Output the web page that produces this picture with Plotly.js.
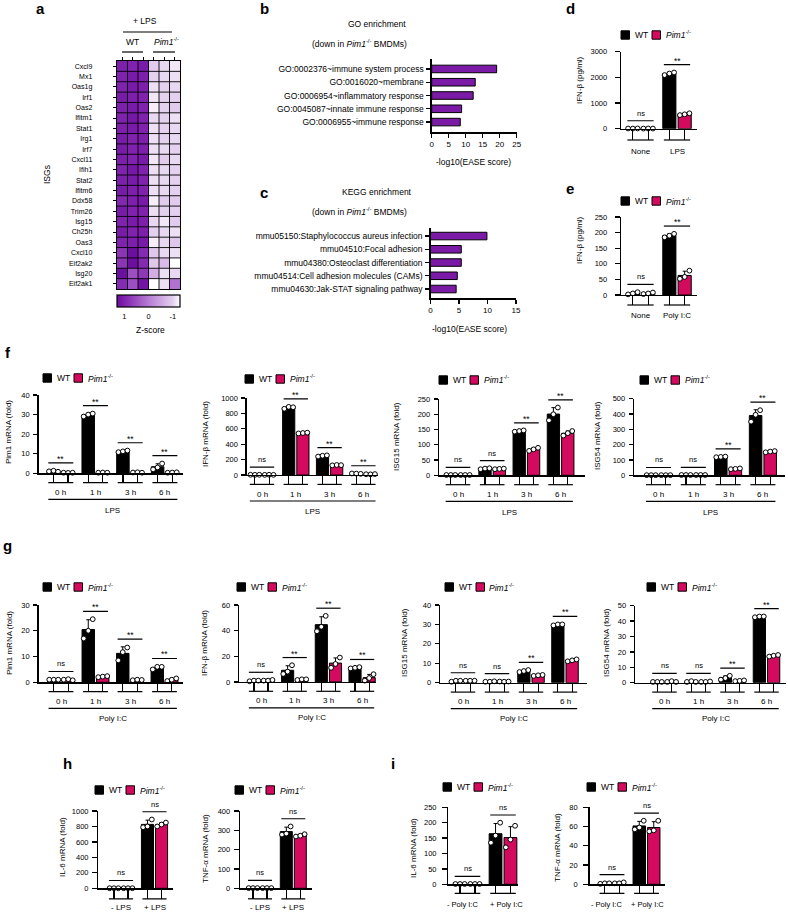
<!DOCTYPE html>
<html><head><meta charset="utf-8">
<script src="https://cdn.plot.ly/plotly-3.0.1.min.js"></script>
<style>html,body{margin:0;padding:0;background:#fff}#chart{width:788px;height:913px}</style>
</head><body><div id="chart"></div>
<script>
// ---------------- DATA ----------------
const genes = ['Cxcl9','Mx1','Oas1g','Irf1','Oas2','Ifitm1','Stat1','Irg1','Irf7','Cxcl11','Ifih1','Stat2','Ifitm6','Ddx58','Trim26','Isg15','Ch25h','Oas3','Cxcl10','Eif2ak2','Isg20','Eif2ak1'];
const heatSamples = ['WT-1','WT-2','WT-3','Pim1-1','Pim1-2','Pim1-3'];
const zScores = [
 [1.05,1.0,1.1,-0.95,-1.05,-1.15],
 [1.0,1.1,1.05,-1.0,-1.05,-1.1],
 [1.0,1.1,1.05,-1.1,-1.0,-1.05],
 [1.1,1.05,1.0,-1.15,-1.0,-1.0],
 [1.05,1.1,1.0,-1.2,-1.0,-0.95],
 [1.0,1.15,1.0,-1.05,-1.0,-1.1],
 [1.05,1.1,1.0,-1.1,-1.0,-1.05],
 [1.1,1.0,1.05,-1.1,-1.0,-1.05],
 [1.1,1.0,1.05,-1.1,-1.05,-1.0],
 [1.05,1.0,1.1,-1.15,-0.95,-1.05],
 [1.0,1.15,1.0,-1.1,-1.05,-1.0],
 [1.05,1.1,1.0,-1.1,-1.05,-1.0],
 [1.1,1.05,1.0,-1.1,-1.05,-1.0],
 [0.95,1.05,1.1,-1.2,-0.95,-0.95],
 [1.1,1.0,1.0,-1.1,-1.0,-1.0],
 [1.0,1.1,1.05,-1.05,-1.15,-0.95],
 [1.1,1.0,1.05,-1.0,-1.05,-1.1],
 [1.0,1.05,1.1,-1.2,-1.05,-0.9],
 [0.8,1.3,0.9,-0.9,-1.05,-1.1],
 [0.8,1.3,0.9,-0.9,-0.75,-1.35],
 [1.5,0.5,0.75,-0.6,-1.1,-1.05],
 [0.9,0.5,1.2,-1.6,-1.1,0.1]
];
const zTicks = [1,0,-1];

const goTerms = ['GO:0002376~immune system process','GO:0016020~membrane','GO:0006954~inflammatory response','GO:0045087~innate immune response','GO:0006955~immune response'];
const goScores = [19.1,12.8,12.2,8.8,8.4];
const keggTerms = ['mmu05150:Staphylococcus aureus infection','mmu04510:Focal adhesion','mmu04380:Osteoclast differentiation','mmu04514:Cell adhesion molecules (CAMs)','mmu04630:Jak-STAT signaling pathway'];
const keggScores = [9.9,5.4,5.4,4.7,4.5];

const timeGroups = ['0 h','1 h','3 h','6 h'];

const dGroups = ['None','LPS'];
const dWT = [[8,5,10],[2090,2150,2190]];
const dKO = [[5,9,6],[530,560,600]];
const dSig = ['ns','**'];

const eGroups = ['None','Poly I:C'];
const eWT = [[2,5,9],[185,190,196]];
const eKO = [[3,5,8],[52,58,78]];
const eSig = ['ns','**'];

const fPim1WT = [[1,1.3,0.8],[29,30,30.5],[10.8,11.2,11.6],[2,3,5]];
const fPim1KO = [[0.3,0.2,0.3],[0.3,0.4,0.3],[0.4,0.5,0.3],[0.3,0.4,0.5]];
const fPim1Sig = ['**','**','**','**'];
const fIfnWT = [[3,2,3],[860,885,880],[240,250,255],[20,18,15]];
const fIfnKO = [[2,3,2],[540,545,550],[125,130,128],[10,8,12]];
const fIfnSig = ['ns','**','**','**'];
const fIsg15WT = [[1,1,1],[20,22,23],[143,145,147],[180,200,222]];
const fIsg15KO = [[1,1,1],[20,21,22],[80,85,90],[130,138,145]];
const fIsg15Sig = ['ns','ns','**','**'];
const fIsg54WT = [[1,1,1],[2,2,2],[118,120,122],[350,395,425]];
const fIsg54KO = [[1,1,1],[2,2,2],[40,42,45],[150,155,158]];
const fIsg54Sig = ['ns','ns','**','**'];

const gPim1WT = [[1,1,1],[17,20,24.5],[8.5,11.7,13.5],[5,6,6]];
const gPim1KO = [[1,1.2,0.8],[2,2.2,2.4],[0.8,1,0.9],[0.5,1,1.5]];
const gPim1Sig = ['ns','**','**','**'];
const gIfnWT = [[0.5,1,1],[6.2,8,13],[39.5,43,51.5],[10.5,11,11.5]];
const gIfnKO = [[1,1,1.5],[1.5,2,2],[11,14,19],[1,3,6]];
const gIfnSig = ['ns','**','**','**'];
const gIsg15WT = [[0.5,1,1],[0.5,0.5,0.7],[5.5,6,6.5],[29.5,30,30]];
const gIsg15KO = [[1,1,1],[0.6,0.5,0.6],[3.5,3.8,4],[11,11.5,12]];
const gIsg15Sig = ['ns','ns','**','**'];
const gIsg54WT = [[0.5,0.5,0.5],[0.5,1,0.5],[2,3,4.5],[42.5,43,43]];
const gIsg54KO = [[0.5,1,0.5],[0.5,0.5,0.8],[1,1.2,1.5],[17,17.5,18]];
const gIsg54Sig = ['ns','ns','**','**'];

const hGroups = ['- LPS','+ LPS'];
const hIl6WT = [[1,1,1],[790,800,890]];
const hIl6KO = [[1,1,1],[800,825,850]];
const hTnfWT = [[1,1,1],[278,283,320]];
const hTnfKO = [[1,1,1],[268,272,280]];
const hSig = ['ns','ns'];

const iGroups = ['- Poly I:C','+ Poly I:C'];
const iIl6WT = [[1,1,1],[135,158,200]];
const iIl6KO = [[1,1,1],[120,145,190]];
const iTnfWT = [[0.5,1,1],[57,59,66]];
const iTnfKO = [[1,1,2],[55,56,66]];
const iSig = ['ns','ns'];

// ---------------- STYLE / HELPERS ----------------
const FONT = '"Liberation Sans", Arial, sans-serif';
const W = 788, H = 913;
const BLACK = '#000000', PINK = '#d40a5e', PURPLE = '#7b1aa6';
const fx = p => p / W;
const fy = p => 1 - p / H;
const traces = [], shapes = [], annotations = [];
const layout = {
  width: W, height: H, margin: {l:0, r:0, t:0, b:0},
  paper_bgcolor: '#fff', plot_bgcolor: 'rgba(0,0,0,0)', showlegend: false,
  font: {family: FONT, size: 8, color: '#000'}
};
const mean = a => a.reduce((s,v)=>s+v,0)/a.length;
const sdev = a => { const m = mean(a); return Math.sqrt(a.reduce((s,v)=>s+(v-m)*(v-m),0)/(a.length-1)); };
const sfx = n => n === 1 ? '' : String(n);

function text(x, y, t, opt) {
  annotations.push(Object.assign({xref:'paper', yref:'paper', x:fx(x), y:fy(y), text:t, showarrow:false,
    xanchor:'center', yanchor:'middle', font:{size:8, color:'#000'}}, opt || {}));
}
function hline(x0, x1, y, w) {
  shapes.push({type:'line', xref:'paper', yref:'paper', x0:fx(x0), x1:fx(x1), y0:fy(y), y1:fy(y), line:{color:'#000', width:w||1.2}});
}
function legendKey(x, y) {
  shapes.push({type:'rect', xref:'paper', yref:'paper', x0:fx(x), x1:fx(x+8.5), y0:fy(y+4.2), y1:fy(y-4.2), fillcolor:BLACK, line:{color:'#000', width:1}});
  text(x+11.5, y, 'WT', {xanchor:'left', font:{size:8.5, color:'#000'}});
  shapes.push({type:'rect', xref:'paper', yref:'paper', x0:fx(x+31), x1:fx(x+39.5), y0:fy(y+4.2), y1:fy(y-4.2), fillcolor:PINK, line:{color:'#000', width:1}});
  text(x+42.5, y, '<i>Pim1</i><sup>-/-</sup>', {xanchor:'left', font:{size:8.5, color:'#000'}});
}
function panelLetter(x, y, t) { text(x, y, '<b>'+t+'</b>', {font:{size:15, color:'#000'}}); }

const OFF = 0.21, JIT = 0.13, BW = 0.36, HALF = 0.36;
function barPanel(n, d) {
  const s = sfx(n), xa = 'x'+s, ya = 'y'+s;
  const G = d.groups.length;
  const lo = (d.x0 - d.g0) / d.gs, hi = (d.x1 - d.g0) / d.gs;
  const centers = [];
  d.groups.forEach((g,i) => { centers.push(i-OFF, i+OFF); });
  layout['xaxis'+s] = {domain:[fx(d.x0), fx(d.x1)], range:[lo, hi], anchor:ya, showline:true, linecolor:'#000', linewidth:1.3,
    ticks:'outside', ticklen:d.uo-1.5, tickwidth:1.2, tickcolor:'#000', tickmode:'array', tickvals:centers,
    showticklabels:false, showgrid:false, zeroline:false, fixedrange:true};
  layout['yaxis'+s] = {domain:[fy(d.yBot), fy(d.yTop)], range:[0, d.ymax], anchor:xa, showline:true, linecolor:'#000', linewidth:1.3,
    ticks:'outside', ticklen:d.tl, tickwidth:1.2, tickcolor:'#000', tick0:0, dtick:d.dtick, color:'#000',
    tickfont:{size:7.5, color:'#000'}, ticklabelstandoff:d.ts, showgrid:false, zeroline:false, fixedrange:true};
  [{reps:d.wt, color:BLACK, off:-OFF, name:'WT'}, {reps:d.ko, color:PINK, off:OFF, name:'Pim1-/-'}].forEach(se => {
    const xs = d.groups.map((g,i) => i + se.off);
    const m = se.reps.map(mean), e = se.reps.map(sdev);
    traces.push({type:'bar', name:se.name, x:xs, y:m, width:BW, xaxis:xa, yaxis:ya,
      marker:{color:se.color, line:{color:'#000', width:1}},
      error_y:{type:'data', symmetric:false, array:e, arrayminus:e.map(()=>0), color:'#000', thickness:1, width:2},
      hoverinfo:'y'});
    const px = [], py = [];
    se.reps.forEach((r,i) => r.forEach((v,j) => { px.push(i + se.off + (j-(r.length-1)/2)*JIT); py.push(v); }));
    traces.push({type:'scatter', mode:'markers', name:se.name, x:px, y:py, xaxis:xa, yaxis:ya, cliponaxis:false,
      marker:{size:4.8, color:'#fff', line:{color:'#000', width:1}}, hoverinfo:'y'});
  });
  d.sig.forEach((t,i) => {
    let top = 0;
    [d.wt[i], d.ko[i]].forEach(r => { top = Math.max(top, Math.max(...r), mean(r)+sdev(r)); });
    const ys = top + 0.1*d.ymax;
    shapes.push({type:'line', xref:xa, yref:ya, x0:i-HALF, x1:i+HALF, y0:ys, y1:ys, line:{color:'#000', width:1.2}});
    annotations.push({xref:xa, yref:ya, x:i, y:ys, text:t, showarrow:false, yanchor:'bottom',
      yshift: t==='ns' ? 1 : -3, font:{size: t==='ns' ? 7.5 : 8.5, color:'#000'}});
  });
  d.groups.forEach((g,i) => {
    shapes.push({type:'line', xref:xa, yref:'paper', x0:i-HALF, x1:i+HALF, y0:fy(d.yBot+d.uo), y1:fy(d.yBot+d.uo), line:{color:'#000', width:1.2}});
    annotations.push({xref:xa, yref:'paper', x:i, y:fy(d.yBot+d.lb), text:g, showarrow:false, yanchor:'middle',
      xshift: d.lshift ? d.lshift[i] : 0, font:{size:d.lfs || 8, color:'#000'}});
  });
  if (d.under) {
    shapes.push({type:'line', xref:xa, yref:'paper', x0:-HALF, x1:G-1+HALF, y0:fy(d.yBot+d.ll), y1:fy(d.yBot+d.ll), line:{color:'#000', width:1.2}});
    annotations.push({xref:xa, yref:'paper', x:(G-1)/2, y:fy(d.yBot+d.lt), text:d.under, showarrow:false, yanchor:'middle', font:{size:8, color:'#000'}});
  }
  text(d.tx, d.ty, d.ytitle, {textangle:-90, font:{size:8, color:'#000'}});
  legendKey(d.lx, d.ly);
}

// ---------------- PANEL a : heatmap ----------------
const colIdx = heatSamples.map((s,i)=>i);
const rowIdx = genes.map((g,i)=>i);
traces.push({type:'heatmap', x:colIdx, y:rowIdx, z:zScores.map(r=>r.map(v=>-v)), xaxis:'x', yaxis:'y',
  zmin:-1.3, zmax:1.3,
  colorscale:[[0,'#6c0e9e'],[0.115,'#8022ae'],[0.5,'#b67bd3'],[0.885,'#e4d0ef'],[1,'#ffffff']],
  text: zScores, hovertemplate:'%{text}<extra></extra>',
  colorbar:{orientation:'h', x:fx(148.5), xanchor:'center', y:fy(295), yanchor:'top', len:63, lenmode:'pixels',
    thickness:12, thicknessmode:'pixels', xpad:0, ypad:0, outlinewidth:1.2, outlinecolor:'#000',
    tickmode:'array', tickvals:zTicks.map(v=>-v), ticktext:zTicks.map(String), ticks:'outside', ticklen:3, tickcolor:'rgba(0,0,0,0)',
    tickfont:{size:7.5, color:'#000'}}
});
layout.xaxis = {domain:[fx(117), fx(180)], range:[-0.5, heatSamples.length-0.5], anchor:'y', side:'top', showline:true, mirror:true,
  linecolor:'#000', linewidth:1.3, ticks:'outside', ticklen:3, tickcolor:'#000', tickmode:'array', tickvals:colIdx,
  showticklabels:false, showgrid:false, zeroline:false, fixedrange:true};
layout.yaxis = {domain:[fy(289), fy(61)], range:[genes.length-0.5, -0.5], anchor:'x', showline:true, mirror:true,
  linecolor:'#000', linewidth:1.3, ticks:'outside', ticklen:3, tickcolor:'#000', tickmode:'array', tickvals:rowIdx, ticktext:genes,
  color:'#000', tickfont:{size:7, color:'#000'}, ticklabelstandoff:19, showgrid:false, zeroline:false, fixedrange:true};
// cell borders
colIdx.slice(1).forEach(v => shapes.push({type:'line', xref:'x', yref:'y domain', x0:v-0.5, x1:v-0.5, y0:0, y1:1, layer:'above', line:{color:'#000', width:0.9}}));
rowIdx.slice(1).forEach(v => shapes.push({type:'line', xref:'x domain', yref:'y', x0:0, x1:1, y0:v-0.5, y1:v-0.5, layer:'above', line:{color:'#000', width:0.9}}));
panelLetter(40, 9, 'a');
text(145, 21, '+ LPS', {font:{size:8.5, color:'#000'}});
hline(123, 172, 32);
text(132, 42, 'WT', {font:{size:8.5, color:'#000'}});
text(166, 42, '<i>Pim1</i><sup>-/-</sup>', {font:{size:8.5, color:'#000'}});
hline(122, 143, 52); hline(153, 175, 52);
text(47, 175, 'ISGs', {textangle:-90, font:{size:8.5, color:'#000'}});
text(150, 330, 'Z-score', {font:{size:8.5, color:'#000'}});

// ---------------- PANELS b, c : enrichment ----------------
function enrich(n, terms, vals, box, xmax) {
  const s = sfx(n), xa = 'x'+s, ya = 'y'+s;
  traces.push({type:'bar', orientation:'h', y:terms, x:vals, xaxis:xa, yaxis:ya, width:0.57,
    marker:{color:PURPLE, line:{color:'#000', width:1}}, hoverinfo:'x'});
  layout['xaxis'+s] = {domain:[fx(box.x0), fx(box.x1)], range:[0, xmax], dtick:5, tick0:0, anchor:ya, showline:true, linecolor:'#000', linewidth:1.3,
    ticks:'outside', ticklen:4, tickwidth:1.2, tickcolor:'#000', color:'#000', tickfont:{size:8, color:'#000'}, showgrid:false, zeroline:false, fixedrange:true};
  layout['yaxis'+s] = {domain:[fy(box.y1), fy(box.y0)], type:'category', categoryorder:'array', categoryarray:terms,
    range:[box.rb, box.rt], anchor:xa, showline:true, linecolor:'#000', linewidth:1.3, ticks:'outside', ticklen:4, tickwidth:1.2,
    tickcolor:'#000', color:'#000', tickfont:{size:8.5, color:'#000'}, ticklabelstandoff:1, showgrid:false, zeroline:false, fixedrange:true};
}
enrich(2, goTerms, goScores, {x0:431.7, x1:516.7, y0:59, y1:132.3, rb:4.77, rt:-0.75}, 25);
enrich(3, keggTerms, keggScores, {x0:430.5, x1:516, y0:227.7, y1:298.3, rb:4.7, rt:-0.63}, 15);
panelLetter(264, 9, 'b');
text(377, 24, 'GO enrichment', {font:{size:8.5, color:'#000'}});
text(359, 43, '(down in <i>Pim1</i><sup>-/-</sup> BMDMs)', {font:{size:8.5, color:'#000'}});
text(473, 162, '-log10(EASE score)', {font:{size:8.5, color:'#000'}});
panelLetter(264, 192, 'c');
text(377, 192, 'KEGG enrichment', {font:{size:8.5, color:'#000'}});
text(359, 211, '(down in <i>Pim1</i><sup>-/-</sup> BMDMs)', {font:{size:8.5, color:'#000'}});
text(470, 329, '-log10(EASE score)', {font:{size:8.5, color:'#000'}});

// ---------------- PANELS d, e ----------------
panelLetter(570, 8, 'd');
barPanel(4, {groups:dGroups, wt:dWT, ko:dKO, sig:dSig, x0:621, g0:640.5, gs:36.5, x1:697, yTop:51.7, yBot:128.7, ymax:3000, dtick:1000,
  tl:5, ts:6, uo:11.3, lb:22.3, ytitle:'IFN-β (pg/ml)', tx:579, ty:80, lx:621, ly:35});
panelLetter(570, 188, 'e');
barPanel(5, {groups:eGroups, wt:eWT, ko:eKO, sig:eSig, x0:621, g0:640.5, gs:36.5, x1:697, yTop:217, yBot:295, ymax:250, dtick:50,
  tl:5, ts:6, uo:10, lb:20.5, ytitle:'IFN-β (pg/ml)', tx:579, ty:240, lx:621, ly:201});

// ---------------- PANEL f ----------------
panelLetter(8, 352, 'f');
const fCommon = {groups:timeGroups, tl:4, ts:2, uo:9.4, lb:19.4, ll:26, lt:36.7, under:'LPS'};
barPanel(6, Object.assign({}, fCommon, {wt:fPim1WT, ko:fPim1KO, sig:fPim1Sig, x0:38.5, g0:60.8, gs:34.7, x1:183, yTop:395, yBot:473.3, ymax:40, dtick:10,
  ytitle:'Pim1 mRNA (fold)', tx:9, ty:432, lx:43, ly:378}));
barPanel(7, Object.assign({}, fCommon, {wt:fIfnWT, ko:fIfnKO, sig:fIfnSig, x0:246.7, g0:262, gs:33.8, x1:378, yTop:398, yBot:475, ymax:1000, dtick:200,
  ytitle:'IFN-β mRNA (fold)', tx:205, ty:434, lx:245, ly:379}));
barPanel(8, Object.assign({}, fCommon, {wt:fIsg15WT, ko:fIsg15KO, sig:fIsg15Sig, x0:439, g0:458, gs:34.2, x1:585, yTop:399, yBot:475.3, ymax:250, dtick:50,
  ytitle:'ISG15 mRNA (fold)', tx:396, ty:436, lx:439, ly:380}));
barPanel(9, Object.assign({}, fCommon, {wt:fIsg54WT, ko:fIsg54KO, sig:fIsg54Sig, x0:634, g0:658.5, gs:34.8, x1:785, yTop:398.7, yBot:475.3, ymax:500, dtick:100,
  ytitle:'ISG54 mRNA (fold)', tx:597, ty:436, lx:640, ly:380}));

// ---------------- PANEL g ----------------
panelLetter(8, 545, 'g');
const gCommon = {groups:timeGroups, tl:4, ts:2, uo:9.4, lb:18.7, ll:26, lt:35.7, under:'Poly I:C'};
barPanel(10, Object.assign({}, gCommon, {wt:gPim1WT, ko:gPim1KO, sig:gPim1Sig, x0:38.5, g0:61, gs:34.5, x1:183, yTop:605, yBot:682.3, ymax:30, dtick:10,
  ytitle:'Pim1 mRNA (fold)', tx:9, ty:643, lx:43, ly:587}));
barPanel(11, Object.assign({}, gCommon, {wt:gIfnWT, ko:gIfnKO, sig:gIfnSig, x0:239, g0:261, gs:33.7, x1:376, yTop:605, yBot:681.9, ymax:60, dtick:20,
  ytitle:'IFN-β mRNA (fold)', tx:204, ty:643, lx:237, ly:587}));
barPanel(12, Object.assign({}, gCommon, {wt:gIsg15WT, ko:gIsg15KO, sig:gIsg15Sig, x0:440, g0:463, gs:34, x1:587, yTop:605, yBot:682.7, ymax:40, dtick:10,
  ytitle:'ISG15 mRNA (fold)', tx:404, ty:643, lx:445, ly:587}));
barPanel(13, Object.assign({}, gCommon, {wt:gIsg54WT, ko:gIsg54KO, sig:gIsg54Sig, x0:635, g0:664.5, gs:34, x1:786, yTop:605.7, yBot:682.7, ymax:50, dtick:10,
  ytitle:'ISG54 mRNA (fold)', tx:606, ty:643, lx:647, ly:587}));

// ---------------- PANELS h, i ----------------
panelLetter(67, 763, 'h');
barPanel(14, {groups:hGroups, wt:hIl6WT, ko:hIl6KO, sig:hSig, x0:98.3, g0:121, gs:33.5, x1:173, yTop:811, yBot:888.3, ymax:1000, dtick:200,
  tl:5, ts:2, uo:10.5, lb:19.5, ytitle:'IL-6 mRNA (fold)', tx:62, ty:847, lx:95, ly:790});
barPanel(15, {groups:hGroups, wt:hTnfWT, ko:hTnfKO, sig:hSig, x0:240, g0:260, gs:33.3, x1:311.7, yTop:811, yBot:888.3, ymax:400, dtick:100,
  tl:5, ts:2, uo:10.5, lb:19.5, ytitle:'TNF-α mRNA (fold)', tx:205, ty:848, lx:235, ly:790});
panelLetter(393, 763, 'i');
barPanel(16, {groups:iGroups, wt:iIl6WT, ko:iIl6KO, sig:iSig, x0:448.3, g0:467.5, gs:35.5, x1:518.3, yTop:807.3, yBot:884.3, ymax:250, dtick:50,
  tl:5, ts:4, uo:9, lb:20.5, lshift:[-5, 3], lfs:7.5, ytitle:'IL-6 mRNA (fold)', tx:413, ty:848, lx:443, ly:787});
barPanel(17, {groups:iGroups, wt:iTnfWT, ko:iTnfKO, sig:iSig, x0:589.5, g0:612, gs:34.5, x1:665, yTop:807.3, yBot:884.3, ymax:80, dtick:20,
  tl:5, ts:4, uo:9, lb:20.5, lshift:[-6, 1], lfs:7.5, ytitle:'TNF-α mRNA (fold)', tx:557, ty:848, lx:587, ly:787});

layout.shapes = shapes;
layout.annotations = annotations;
Plotly.newPlot('chart', traces, layout, {staticPlot:true, displayModeBar:false});
</script>
</body></html>
